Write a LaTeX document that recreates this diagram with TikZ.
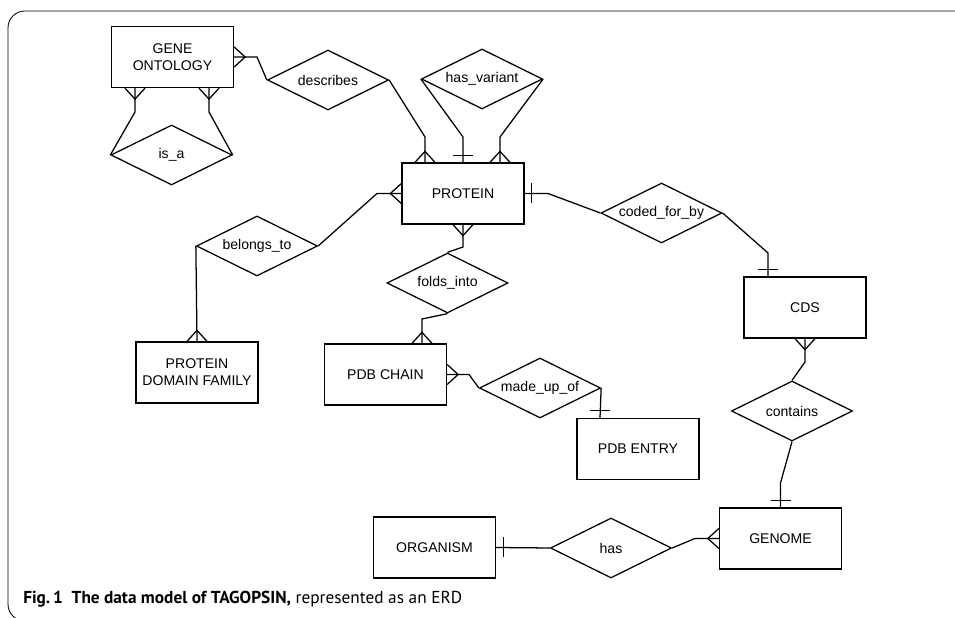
\documentclass[tikz,border=0pt]{standalone}
\usepackage{fontspec}
\setmainfont{Liberation Sans}
\newfontfamily\capfont{PT Sans}
\usetikzlibrary{shapes.geometric,calc}

\begin{document}
\begin{tikzpicture}[
  x=0.025cm, y=0.025cm,
  conn/.style={line width=0.9pt},
  entity/.style={draw, line width=0.9pt, minimum width=3.05cm, minimum height=1.525cm, inner sep=0pt, align=center, font=\fontsize{10}{12}\selectfont},
  relation/.style={draw, diamond, aspect=2, line width=0.9pt, minimum width=3.025cm, minimum height=1.5cm, inner sep=0pt, font=\fontsize{10}{12}\selectfont},
  many/.pic={\draw[conn] (0,-10) -- (11,0) -- (0,10);},
  one/.pic={\draw[conn] (7,-10) -- (7,10);}
]
\useasboundingbox (0,0) rectangle (955,618);
\draw[line width=0.6pt, rounded corners=12] (975,607) -- (8,607) -- (8,-3) -- (975,-3);

% entities
\node[entity] (geneont) at (172.5,561) {GENE\\ONTOLOGY};
\node[entity] (protein) at (463,424.5) {PROTEIN};
\node[entity] (cds) at (805,310.5) {CDS};
\node[entity] (domfam) at (197,245.5) {PROTEIN\\DOMAIN FAMILY};
\node[entity] (pdbchain) at (385.5,243.5) {PDB CHAIN};
\node[entity] (pdbentry) at (638,169) {PDB ENTRY};
\node[entity] (genome) at (780.5,79.5) {GENOME};
\node[entity] (organism) at (434.5,70.5) {ORGANISM};

% relationships
\node[relation] (describes) at (328,538) {describes};
\node[relation] (isa) at (171.5,463) {is\_a};
\node[relation] (hasvariant) at (482,539) {has\_variant};
\node[relation] (codedforby) at (661.5,405) {coded\_for\_by};
\node[relation] (belongsto) at (257,372) {belongs\_to};
\node[relation] (foldsinto) at (447.5,335) {folds\_into};
\node[relation] (madeupof) at (540,230) {made\_up\_of};
\node[relation] (contains) at (792,207) {contains};
\node[relation] (has) at (611,70) {has};

% off-centre attachment points
\coordinate (go-l) at ($(geneont.south)+(-37.5,0)$);
\coordinate (go-r) at ($(geneont.south)+(36.5,0)$);
\coordinate (pr-l) at ($(protein.north)+(-38,0)$);
\coordinate (pr-r) at ($(protein.north)+(37,0)$);
\coordinate (cds-t) at ($(cds.north)+(-37,0)$);
\coordinate (pc-t) at ($(pdbchain.north)+(36.5,0)$);
\coordinate (pe-t) at ($(pdbentry.north)+(-38,0)$);

% connectors
\draw[conn] (geneont.east) -- (257,561) -- (describes.west);
\draw[conn] (go-l) -- (135,506) -- (isa.west);
\draw[conn] (go-r) -- (209,506) -- (isa.east);
\draw[conn] (describes.east) -- (425,481) -- (pr-l);
\draw[conn] (hasvariant.west) -- (463,481) -- (protein.north);
\draw[conn] (hasvariant.east) -- (500,481) -- (pr-r);
\draw[conn] (protein.west) -- (377,424.5) -- (belongsto.east);
\draw[conn] (belongsto.west) -- (domfam.north);
\draw[conn] (protein.east) -- (548,424.5) -- (codedforby.west);
\draw[conn] (codedforby.east) -- (768,365) -- (cds-t);
\draw[conn] (protein.south) -- (463,371) -- (foldsinto.north);
\draw[conn] (foldsinto.south) -- (422,299) -- (pc-t);
\draw[conn] (pdbchain.east) -- (469,243.5) -- (madeupof.west);
\draw[conn] (madeupof.east) -- (pe-t);
\draw[conn] (cds.south) -- (805,256) -- (contains.north);
\draw[conn] (contains.south) -- (780.5,135) -- (genome.north);
\draw[conn] (genome.west) -- (695,79.5) -- (has.east);
\draw[conn] (organism.east) -- (has.west);

% cardinality marks
\foreach \p/\a in {geneont.east/0, go-l/-90, go-r/-90, pr-l/90, pr-r/90,
  protein.west/180, domfam.north/90, protein.south/-90, pc-t/90,
  pdbchain.east/0, cds.south/-90, genome.west/180}
  \pic[rotate=\a] at (\p) {many};
\foreach \p/\a in {protein.north/90, protein.east/0, cds-t/90, pe-t/90,
  genome.north/90, organism.east/0}
  \pic[rotate=\a] at (\p) {one};

\node[anchor=base west, inner sep=0pt, font=\capfont\fontsize{12.3}{14}\selectfont] (caption) at (23,14)
  {\textbf{Fig.\,1\ \ The data model of TAGOPSIN,} represented as an ERD};
\end{tikzpicture}
\end{document}
